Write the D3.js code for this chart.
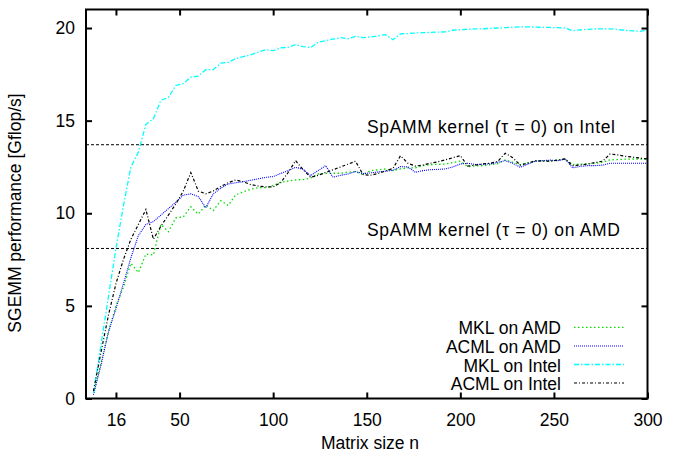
<!DOCTYPE html>
<html>
<head>
<meta charset="utf-8">
<script src="https://cdn.jsdelivr.net/npm/d3@7"></script>
<style>
  html, body { margin: 0; padding: 0; background: #fff; }
  svg text { font-family: "Liberation Sans", Arial, Helvetica, sans-serif; fill: #000; }
</style>
</head>
<body>
<svg id="chart" width="677" height="455"></svg>
<script>
// ---------- data ----------
const matrixSize = [4,8,12,16,20,24,28,32,36,40,44,48,52,56,60,64,68,72,76,80,84,88,92,96,100,
  104,108,112,116,120,124,128,132,136,140,144,148,152,156,160,164,168,172,176,180,184,188,192,196,200,
  204,208,212,216,220,224,228,232,236,240,244,248,252,256,260,264,268,272,276,280,284,288,292,296,300];

const mklAmd = [0.3,1.9,3.6,5.0,6.0,7.3,6.8,7.8,7.75,9.4,9.0,9.75,9.8,10.35,9.95,10.45,10.15,10.68,10.42,11.0,
  11.15,11.3,11.38,11.38,11.5,11.67,11.74,11.8,11.82,11.9,12.12,12.15,12.16,12.16,12.22,12.25,12.09,12.3,12.35,12.39,
  12.3,12.4,12.45,12.45,12.57,12.63,12.64,12.66,12.74,12.81,12.52,12.55,12.57,12.62,12.68,12.88,12.75,12.63,12.72,12.81,
  12.81,12.82,12.87,12.93,12.63,12.65,12.66,12.7,12.75,12.88,12.9,12.92,12.93,12.93,12.93];

const acmlAmd = [0.2,1.8,3.6,4.85,6.2,7.6,8.8,9.4,9.55,9.9,10.25,10.6,10.98,11.05,10.9,10.3,11.05,11.35,11.58,11.65,
  11.7,11.78,11.86,11.94,11.98,12.15,12.3,12.48,12.38,12.03,12.3,12.57,11.94,12.05,12.12,12.25,12.14,12.18,12.23,12.27,
  12.32,12.52,12.5,12.21,12.3,12.35,12.37,12.39,12.5,12.66,12.7,12.63,12.65,12.66,12.75,12.84,12.7,12.48,12.65,12.81,
  12.84,12.87,12.83,12.93,12.45,12.53,12.57,12.57,12.6,12.7,12.7,12.7,12.7,12.7,12.7];

const mklIntel = [0.3,2.9,5.5,8.1,10.4,12.5,13.3,14.8,15.1,16.1,16.25,16.9,17.0,17.35,17.4,17.75,17.75,18.1,18.15,18.35,
  18.45,18.55,18.7,18.83,18.78,18.93,18.96,19.1,19.0,18.94,19.23,19.32,19.4,19.48,19.42,19.55,19.48,19.52,19.58,19.64,
  19.37,19.68,19.7,19.73,19.75,19.76,19.78,19.79,19.88,19.91,19.93,19.95,19.96,19.98,20.0,20.02,20.04,20.07,20.06,20.05,
  20.04,20.03,20.02,20.0,19.86,19.9,19.93,19.95,19.95,19.95,19.93,19.87,19.85,19.82,19.9];

const acmlIntel = [0.4,2.5,4.5,6.2,7.5,8.6,9.4,10.2,8.6,9.3,9.9,10.5,11.2,12.2,11.2,11.05,11.2,11.45,11.65,11.8,
  11.7,11.55,11.47,11.42,11.42,11.65,12.2,12.84,12.35,11.94,12.05,12.2,12.35,12.5,12.65,12.81,12.09,12.05,12.15,12.28,
  12.42,13.1,12.7,12.55,12.6,12.7,12.78,12.88,13.0,13.11,12.55,12.6,12.66,12.7,12.8,13.24,13.0,12.6,12.7,12.84,
  12.82,12.81,12.87,12.93,12.57,12.6,12.66,12.74,12.81,13.2,13.15,13.08,13.03,12.98,12.93];

const seriesNames = ["MKL on AMD", "ACML on AMD", "MKL on Intel", "ACML on Intel"];
const seriesValues = [mklAmd, acmlAmd, mklIntel, acmlIntel];

const refLabels = ["SpAMM kernel (\u03C4 = 0) on Intel", "SpAMM kernel (\u03C4 = 0) on AMD"];
const refValues = [13.7, 8.1];

const xTicks = [16, 50, 100, 150, 200, 250, 300];
const yTicks = [0, 5, 10, 15, 20];

// ---------- styles ----------
const styles = [
  { color: "#00dd00", dash: "1.5,2.5", width: 1.3 },
  { color: "#0000ff", dash: "1,1", width: 1.1 },
  { color: "#00ffff", dash: "5,2,1.5,2", width: 1.3 },
  { color: "#000000", dash: "3,2,1,2", width: 1.2 }
];
const refTextWidth = [248, 253];

// ---------- layout ----------
const L = 86, R = 647.5, T = 9.5, B = 398.5;
const svg = d3.select("#chart");
const x = d3.scaleLinear().domain([0, 300]).range([L, R]);
const y = d3.scaleLinear().domain([0, 21]).range([B, T]);
const fs = "17.5px";

// reference lines
refValues.forEach((v, i) => {
  svg.append("line")
    .attr("x1", L).attr("x2", R)
    .attr("y1", y(v)).attr("y2", y(v))
    .attr("stroke", "#000").attr("stroke-width", 1)
    .attr("stroke-dasharray", "3,2");
  svg.append("text").attr("x", 367).attr("y", y(v) - 12)
    .attr("textLength", refTextWidth[i]).attr("lengthAdjust", "spacing")
    .style("font-size", fs).text(refLabels[i]);
});

// series lines
const line = d3.line().x(d => x(d[0])).y(d => y(d[1]));
seriesValues.forEach((vals, i) => {
  const pts = matrixSize.map((n, j) => [n, vals[j]]);
  svg.append("path").datum(pts)
    .attr("d", line)
    .attr("fill", "none")
    .attr("stroke", styles[i].color)
    .attr("stroke-width", styles[i].width)
    .attr("stroke-dasharray", styles[i].dash);
});

// axes (ticks inward, mirrored)
const tickLen = 6;
const axB = svg.append("g").attr("transform", `translate(0,${B})`)
  .call(d3.axisBottom(x).tickValues(xTicks).tickSizeInner(-tickLen).tickSizeOuter(0).tickPadding(15));
const axT = svg.append("g").attr("transform", `translate(0,${T})`)
  .call(d3.axisTop(x).tickValues(xTicks).tickSizeInner(-tickLen).tickSizeOuter(0).tickFormat(""));
const axL = svg.append("g").attr("transform", `translate(${L},0)`)
  .call(d3.axisLeft(y).tickValues(yTicks).tickSizeInner(-tickLen).tickSizeOuter(0).tickPadding(11));
const axR = svg.append("g").attr("transform", `translate(${R},0)`)
  .call(d3.axisRight(y).tickValues(yTicks).tickSizeInner(-tickLen).tickSizeOuter(0).tickFormat(""));
[axB, axT, axL, axR].forEach(g => {
  g.select(".domain").remove();
  g.selectAll(".tick line").attr("stroke", "#000").attr("stroke-width", 2);
  g.selectAll(".tick text").style("font-size", fs)
    .style("font-family", "'Liberation Sans', Arial, sans-serif").attr("fill", "#000");
});
axB.selectAll(".tick text").attr("dy", "0.71em");

// frame
svg.append("rect").attr("x", L).attr("y", T).attr("width", R - L).attr("height", B - T)
  .attr("fill", "none").attr("stroke", "#000").attr("stroke-width", 2);

// axis titles
svg.append("text").attr("x", 370).attr("y", 449).attr("text-anchor", "middle")
  .style("font-size", fs).text("Matrix size n");
svg.append("text").attr("transform", "translate(21,213) rotate(-90)").attr("text-anchor", "middle")
  .style("font-size", fs).text("SGEMM performance [Gflop/s]");

// legend
const legBase = [334.3, 353, 371.5, 390];
seriesNames.forEach((name, i) => {
  svg.append("text").attr("x", 561).attr("y", legBase[i]).attr("text-anchor", "end")
    .style("font-size", fs).text(name);
  svg.append("line").attr("x1", 574).attr("x2", 624)
    .attr("y1", legBase[i] - 7).attr("y2", legBase[i] - 7)
    .attr("stroke", styles[i].color).attr("stroke-width", styles[i].width)
    .attr("stroke-dasharray", styles[i].dash);
});
</script>
</body>
</html>
